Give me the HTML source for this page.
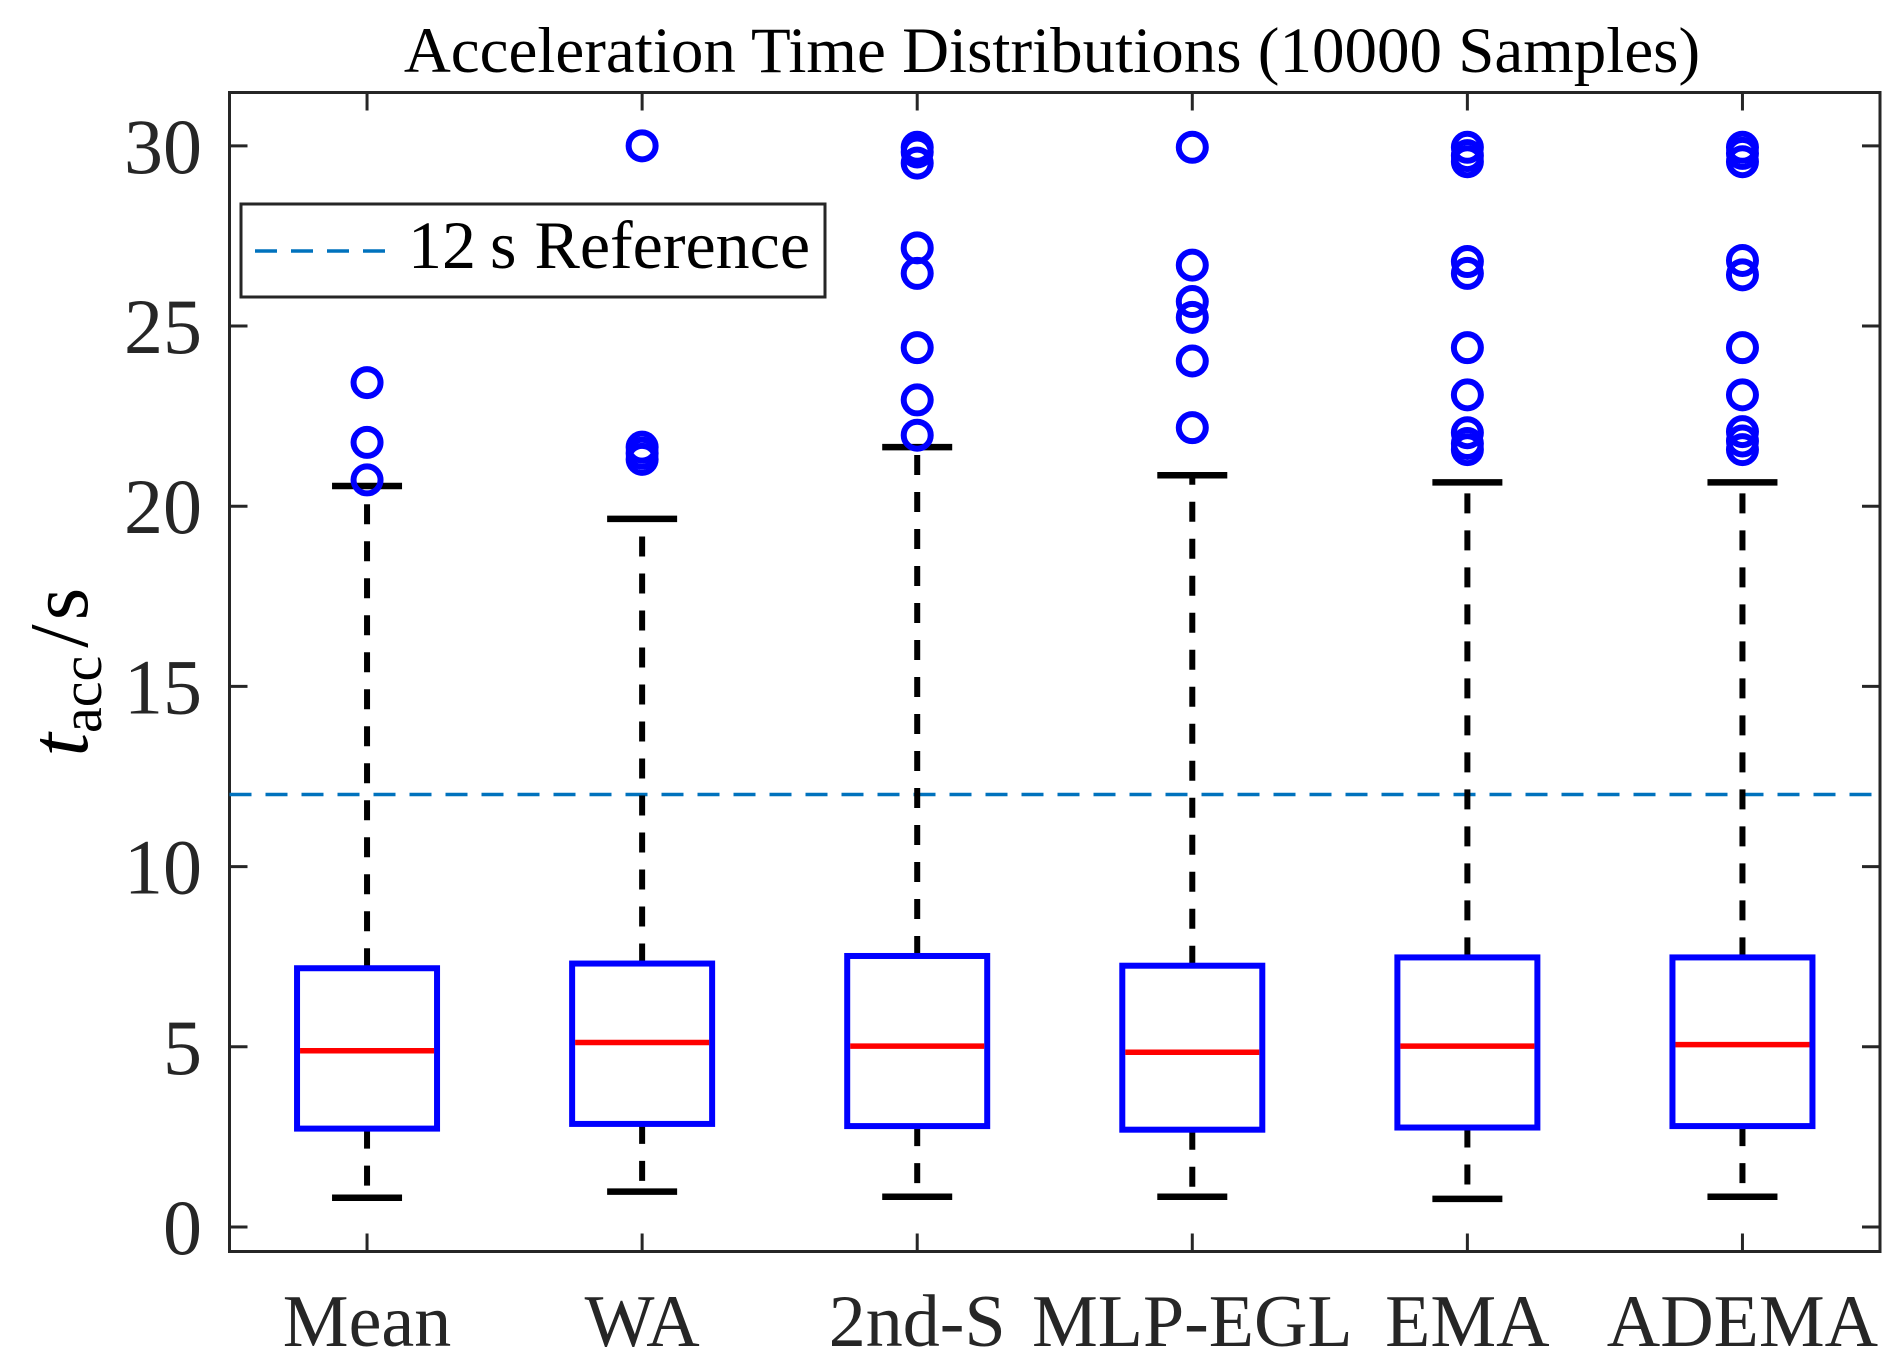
<!DOCTYPE html>
<html><head><meta charset="utf-8"><style>
html,body{margin:0;padding:0;background:#fff;}
svg{display:block;font-family:"Liberation Serif",serif;}
</style></head><body>
<svg id="chart" width="1904" height="1370" viewBox="0 0 1904 1370">
<rect width="1904" height="1370" fill="#fff"/>
<text x="1052" y="72" font-size="65" text-anchor="middle" fill="#000">Acceleration Time Distributions (10000 Samples)</text>
<g id="plot"></g>
<g id="legend">
<rect x="241" y="204" width="584" height="93" fill="#fff" stroke="#262626" stroke-width="3"/>
<line x1="255" y1="251" x2="393" y2="251" stroke="#0072BD" stroke-width="3.5" stroke-dasharray="22 14"/>
<text x="408" y="268" font-size="68" fill="#000">12<tspan dx="14">s</tspan><tspan dx="18">Reference</tspan></text>
</g>
<text transform="translate(87,672) rotate(-90)" font-size="84" text-anchor="middle" fill="#000"><tspan font-style="italic">t</tspan><tspan font-size="58" dy="14">acc</tspan><tspan dy="-14" dx="8">/</tspan><tspan dx="4">s</tspan></text>
</svg>
<script>
const categories = ["Mean","WA","2nd-S","MLP-EGL","EMA","ADEMA"];
const q1 = [2.73,2.86,2.80,2.70,2.76,2.80];
const medians = [4.89,5.12,5.02,4.85,5.02,5.06];
const q3 = [7.18,7.31,7.52,7.25,7.48,7.48];
const lowerWhisker = [0.81,0.98,0.84,0.84,0.78,0.84];
const upperWhisker = [20.56,19.65,21.64,20.86,20.66,20.66];
const outliers = [
 [23.43,21.77,20.73],
 [30.0,21.64,21.47,21.3],
 [29.96,29.83,29.52,27.17,26.46,24.40,22.95,21.97],
 [29.96,26.69,25.68,25.24,24.03,22.18],
 [29.96,29.73,29.56,26.79,26.46,24.40,23.09,22.04,21.74,21.57],
 [29.96,29.79,29.56,26.82,26.42,24.40,23.09,22.07,21.81,21.57]
];
const yTicks = [0,5,10,15,20,25,30];
const referenceValue = 12;

const L=229.5,R=1880,T=92.5,B=1251.5;
const xMin=0.5,xMax=6.5,yMin=-0.68,yMax=31.48;
const xs=i=>L+(i+1-xMin)/(xMax-xMin)*(R-L);
const ys=v=>B-(v-yMin)/(yMax-yMin)*(B-T);
const NS="http://www.w3.org/2000/svg";
const g=document.getElementById('plot');
function mk(t,a,p){const e=document.createElementNS(NS,t);for(const k in a)e.setAttribute(k,a[k]);(p||g).appendChild(e);return e;}

const frame=mk('rect',{x:L,y:T,width:R-L,height:B-T,fill:'none',stroke:'#262626','stroke-width':3});



yTicks.forEach(v=>{
 const y=ys(v);
 const t1=mk('line',{x1:L,x2:L+18,y1:y,y2:y,stroke:'#262626','stroke-width':3});
 
 
 const t2=mk('line',{x1:R-18,x2:R,y1:y,y2:y,stroke:'#262626','stroke-width':3});
 
 
 const lb=mk('text',{x:202,y:y+27,'font-size':78,'text-anchor':'end',fill:'#262626'});
 lb.textContent=v;
 
 
});

const ref=mk('line',{x1:L,x2:R,y1:ys(referenceValue),y2:ys(referenceValue),stroke:'#0072BD','stroke-width':3.5,'stroke-dasharray':'22 14'});



categories.forEach((c,i)=>{
 const x=xs(i);
 const tb=mk('line',{x1:x,x2:x,y1:B,y2:B-18,stroke:'#262626','stroke-width':3});
 
 
 const tt=mk('line',{x1:x,x2:x,y1:T,y2:T+18,stroke:'#262626','stroke-width':3});
 
 
 const lb=mk('text',{x:x,y:1346,'font-size':74,'text-anchor':'middle',fill:'#262626'});
 lb.textContent=c;
 
 

 const grp=mk('g',{});
 
 
 const w1=mk('line',{x1:x,x2:x,y1:ys(q3[i]),y2:ys(upperWhisker[i]),stroke:'#000','stroke-width':6,'stroke-dasharray':'20 17'},grp);
 
 
 const w2=mk('line',{x1:x,x2:x,y1:ys(q1[i]),y2:ys(lowerWhisker[i]),stroke:'#000','stroke-width':6,'stroke-dasharray':'20 17'},grp);
 
 
 const c1=mk('line',{x1:x-35,x2:x+35,y1:ys(upperWhisker[i]),y2:ys(upperWhisker[i]),stroke:'#000','stroke-width':6.5},grp);
 
 
 const c2=mk('line',{x1:x-35,x2:x+35,y1:ys(lowerWhisker[i]),y2:ys(lowerWhisker[i]),stroke:'#000','stroke-width':6.5},grp);
 
 
 const bx=mk('rect',{x:x-70,y:ys(q3[i]),width:140,height:ys(q1[i])-ys(q3[i]),fill:'none',stroke:'#0000FF','stroke-width':6},grp);
 
 
 const md=mk('line',{x1:x-67,x2:x+67,y1:ys(medians[i]),y2:ys(medians[i]),stroke:'#FF0000','stroke-width':5.5},grp);
 
 
 outliers[i].forEach(v=>{
  const o=mk('circle',{cx:x,cy:ys(v),r:13.5,fill:'none',stroke:'#0000FF','stroke-width':6},grp);
  
  
 });
});
document.getElementById('chart').appendChild(document.getElementById('legend'));
</script>
</body></html>
